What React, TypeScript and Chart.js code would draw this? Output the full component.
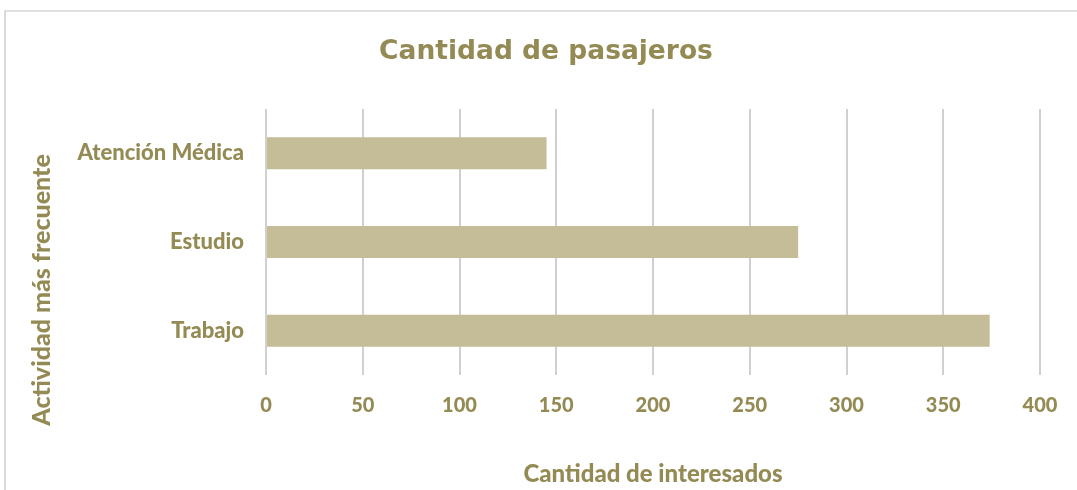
import React, { useEffect, useRef } from "react";
import { Chart, registerables } from "chart.js";

Chart.register(...registerables);

const categories = ["Atención Médica", "Estudio", "Trabajo"];
const values = [145, 275, 374];
const xTicks = [0, 50, 100, 150, 200, 250, 300, 350, 400];
const chartTitle = "Cantidad de pasajeros";
const xTitle = "Cantidad de interesados";
const yTitle = "Actividad más frecuente";

const TEXT = "#948A54";
const BAR = "#C4BD97";
const GRID = "#D0D0D0";
const LABEL_FONT = "Lato, 'DejaVu Sans', sans-serif";
const LABEL_WEIGHT = 900;

const yTitlePlugin = {
  id: "yTitlePlugin",
  afterDraw(chart: any) {
    const ctx = chart.ctx;
    ctx.save();
    ctx.translate(42, 290);
    ctx.rotate(-Math.PI / 2);
    ctx.fillStyle = TEXT;
    ctx.font = `${LABEL_WEIGHT} 25px ${LABEL_FONT}`;
    ctx.textAlign = "center";
    ctx.textBaseline = "middle";
    ctx.fillText(yTitle, 0, 0);
    ctx.restore();
  },
};

export default function App() {
  const ref = useRef<HTMLCanvasElement | null>(null);

  useEffect(() => {
    if (!ref.current) return;
    const chart = new Chart(ref.current, {
      type: "bar",
      data: {
        labels: categories,
        datasets: [
          {
            data: values,
            backgroundColor: BAR,
            borderWidth: 0,
            categoryPercentage: 1,
            barPercentage: 0.36,
          },
        ],
      },
      options: {
        indexAxis: "y",
        responsive: false,
        animation: false,
        devicePixelRatio: 1,
        layout: { padding: { left: 52, right: 37, top: 0, bottom: 0 } },
        plugins: {
          legend: { display: false },
          tooltip: { enabled: false },
          title: {
            display: true,
            text: chartTitle,
            color: TEXT,
            font: { family: "'DejaVu Sans', sans-serif", size: 26.5, weight: "bold", lineHeight: 1.2 },
            padding: { top: 35.8, bottom: 41.4 },
          },
        },
        scales: {
          x: {
            type: "linear",
            min: 0,
            max: 400,
            afterBuildTicks: (scale: any) => {
              scale.ticks = xTicks.map((v) => ({ value: v }));
            },
            afterFit: (scale: any) => {
              scale.height = 115;
            },
            grid: { color: GRID, lineWidth: 2, drawTicks: false },
            border: { display: false },
            ticks: {
              color: TEXT,
              padding: 19,
              font: { family: LABEL_FONT, size: 20, weight: LABEL_WEIGHT, lineHeight: 1.2 },
            },
            title: {
              display: true,
              text: xTitle,
              color: TEXT,
              padding: { top: 0, bottom: 1 },
              font: { family: LABEL_FONT, size: 24, weight: LABEL_WEIGHT, lineHeight: 1.2 },
            },
          },
          y: {
            afterFit: (scale: any) => {
              scale.width = 214;
            },
            grid: { display: false, drawTicks: false },
            border: { display: false },
            ticks: {
              color: TEXT,
              padding: 22,
              font: { family: LABEL_FONT, size: 22, weight: LABEL_WEIGHT, lineHeight: 1.2 },
            },
          },
        },
      },
      plugins: [yTitlePlugin],
    });
    return () => chart.destroy();
  }, []);

  return (
    <div
      style={{
        position: "fixed",
        left: 0,
        top: 0,
        width: 1077,
        height: 490,
        overflow: "hidden",
        background: "#fff",
      }}
    >
      <div
        style={{
          position: "absolute",
          left: 4,
          top: 10,
          width: 2000,
          height: 2000,
          borderLeft: "2px solid #D9D9D9",
          borderTop: "2px solid #E0E0E0",
        }}
      />
      <canvas ref={ref} width={1077} height={490} style={{ position: "absolute", left: 0, top: 0 }} />
    </div>
  );
}
